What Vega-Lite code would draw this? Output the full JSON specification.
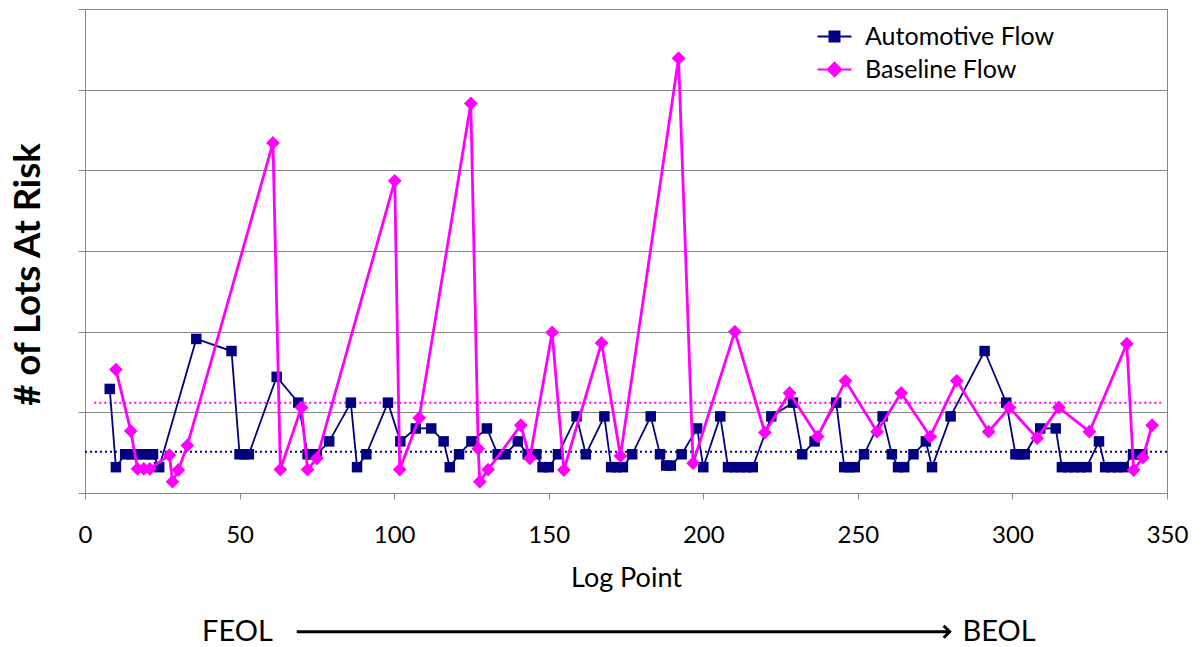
{
  "$schema": "https://vega.github.io/schema/vega-lite/v6.json",
  "width": 1082,
  "height": 484,
  "autosize": {"type": "none"},
  "padding": {"left": 85, "top": 9, "right": 36, "bottom": 154},
  "background": "white",
  "config": {
    "font": "Lato",
    "view": {"stroke": "#868686", "strokeWidth": 1},
    "axis": {
      "domainColor": "#868686",
      "tickColor": "#868686",
      "gridColor": "#868686",
      "gridWidth": 1,
      "labelColor": "#000000",
      "titleColor": "#000000",
      "labelFont": "Lato",
      "titleFont": "Lato"
    },
    "legend": {
      "orient": "none",
      "legendX": 737,
      "legendY": 15,
      "labelFontSize": 25,
      "labelFont": "Lato",
      "labelColor": "#000000",
      "labelLimit": 400,
      "symbolSize": 400,
      "symbolOpacity": 1,
      "symbolStrokeWidth": 2,
      "labelOffset": 18,
      "rowPadding": 7,
      "padding": 0
    }
  },
  "datasets": {
    "auto": [
      {"series": "Automotive Flow", "x": 8, "y": 12.9},
      {"series": "Automotive Flow", "x": 10, "y": 3.2},
      {"series": "Automotive Flow", "x": 13, "y": 4.8},
      {"series": "Automotive Flow", "x": 15, "y": 4.8},
      {"series": "Automotive Flow", "x": 17, "y": 4.8},
      {"series": "Automotive Flow", "x": 19, "y": 4.8},
      {"series": "Automotive Flow", "x": 21, "y": 4.8},
      {"series": "Automotive Flow", "x": 22, "y": 4.8},
      {"series": "Automotive Flow", "x": 24, "y": 3.2},
      {"series": "Automotive Flow", "x": 36, "y": 19.1},
      {"series": "Automotive Flow", "x": 47.4, "y": 17.6},
      {"series": "Automotive Flow", "x": 50, "y": 4.8},
      {"series": "Automotive Flow", "x": 51.5, "y": 4.8},
      {"series": "Automotive Flow", "x": 53, "y": 4.8},
      {"series": "Automotive Flow", "x": 62, "y": 14.4},
      {"series": "Automotive Flow", "x": 69, "y": 11.2},
      {"series": "Automotive Flow", "x": 72, "y": 4.8},
      {"series": "Automotive Flow", "x": 73.5, "y": 4.8},
      {"series": "Automotive Flow", "x": 75, "y": 4.8},
      {"series": "Automotive Flow", "x": 79, "y": 6.4},
      {"series": "Automotive Flow", "x": 86, "y": 11.2},
      {"series": "Automotive Flow", "x": 88, "y": 3.2},
      {"series": "Automotive Flow", "x": 91, "y": 4.8},
      {"series": "Automotive Flow", "x": 98, "y": 11.2},
      {"series": "Automotive Flow", "x": 102, "y": 6.4},
      {"series": "Automotive Flow", "x": 107, "y": 8},
      {"series": "Automotive Flow", "x": 112, "y": 8},
      {"series": "Automotive Flow", "x": 116, "y": 6.4},
      {"series": "Automotive Flow", "x": 118, "y": 3.2},
      {"series": "Automotive Flow", "x": 121, "y": 4.8},
      {"series": "Automotive Flow", "x": 125, "y": 6.4},
      {"series": "Automotive Flow", "x": 130, "y": 8},
      {"series": "Automotive Flow", "x": 133.5, "y": 4.8},
      {"series": "Automotive Flow", "x": 136, "y": 4.8},
      {"series": "Automotive Flow", "x": 140, "y": 6.4},
      {"series": "Automotive Flow", "x": 143.2, "y": 4.8},
      {"series": "Automotive Flow", "x": 146, "y": 4.8},
      {"series": "Automotive Flow", "x": 148, "y": 3.2},
      {"series": "Automotive Flow", "x": 150, "y": 3.2},
      {"series": "Automotive Flow", "x": 153, "y": 4.8},
      {"series": "Automotive Flow", "x": 159, "y": 9.5},
      {"series": "Automotive Flow", "x": 162, "y": 4.8},
      {"series": "Automotive Flow", "x": 168, "y": 9.5},
      {"series": "Automotive Flow", "x": 170.2, "y": 3.2},
      {"series": "Automotive Flow", "x": 172, "y": 3.2},
      {"series": "Automotive Flow", "x": 174, "y": 3.2},
      {"series": "Automotive Flow", "x": 177, "y": 4.8},
      {"series": "Automotive Flow", "x": 183, "y": 9.5},
      {"series": "Automotive Flow", "x": 186, "y": 4.8},
      {"series": "Automotive Flow", "x": 188, "y": 3.4},
      {"series": "Automotive Flow", "x": 189.5, "y": 3.4},
      {"series": "Automotive Flow", "x": 193, "y": 4.8},
      {"series": "Automotive Flow", "x": 198, "y": 8},
      {"series": "Automotive Flow", "x": 200, "y": 3.2},
      {"series": "Automotive Flow", "x": 205.5, "y": 9.5},
      {"series": "Automotive Flow", "x": 208, "y": 3.2},
      {"series": "Automotive Flow", "x": 210, "y": 3.2},
      {"series": "Automotive Flow", "x": 212, "y": 3.2},
      {"series": "Automotive Flow", "x": 214, "y": 3.2},
      {"series": "Automotive Flow", "x": 216, "y": 3.2},
      {"series": "Automotive Flow", "x": 222, "y": 9.5},
      {"series": "Automotive Flow", "x": 229, "y": 11.2},
      {"series": "Automotive Flow", "x": 232, "y": 4.8},
      {"series": "Automotive Flow", "x": 236, "y": 6.4},
      {"series": "Automotive Flow", "x": 243, "y": 11.2},
      {"series": "Automotive Flow", "x": 245.6, "y": 3.2},
      {"series": "Automotive Flow", "x": 247.3, "y": 3.2},
      {"series": "Automotive Flow", "x": 249, "y": 3.2},
      {"series": "Automotive Flow", "x": 252, "y": 4.8},
      {"series": "Automotive Flow", "x": 258, "y": 9.5},
      {"series": "Automotive Flow", "x": 261, "y": 4.8},
      {"series": "Automotive Flow", "x": 263, "y": 3.2},
      {"series": "Automotive Flow", "x": 265, "y": 3.2},
      {"series": "Automotive Flow", "x": 268, "y": 4.8},
      {"series": "Automotive Flow", "x": 272, "y": 6.4},
      {"series": "Automotive Flow", "x": 274, "y": 3.2},
      {"series": "Automotive Flow", "x": 280, "y": 9.5},
      {"series": "Automotive Flow", "x": 291, "y": 17.6},
      {"series": "Automotive Flow", "x": 298, "y": 11.2},
      {"series": "Automotive Flow", "x": 301, "y": 4.8},
      {"series": "Automotive Flow", "x": 302.5, "y": 4.8},
      {"series": "Automotive Flow", "x": 304, "y": 4.8},
      {"series": "Automotive Flow", "x": 309, "y": 8},
      {"series": "Automotive Flow", "x": 314, "y": 8},
      {"series": "Automotive Flow", "x": 316, "y": 3.2},
      {"series": "Automotive Flow", "x": 318, "y": 3.2},
      {"series": "Automotive Flow", "x": 320, "y": 3.2},
      {"series": "Automotive Flow", "x": 322, "y": 3.2},
      {"series": "Automotive Flow", "x": 324, "y": 3.2},
      {"series": "Automotive Flow", "x": 328, "y": 6.4},
      {"series": "Automotive Flow", "x": 330, "y": 3.2},
      {"series": "Automotive Flow", "x": 332, "y": 3.2},
      {"series": "Automotive Flow", "x": 334, "y": 3.2},
      {"series": "Automotive Flow", "x": 336, "y": 3.2},
      {"series": "Automotive Flow", "x": 339, "y": 4.8},
      {"series": "Automotive Flow", "x": 340.5, "y": 4.8},
      {"series": "Automotive Flow", "x": 342, "y": 4.8}
    ],
    "base": [
      {"series": "Baseline Flow", "x": 10, "y": 15.3},
      {"series": "Baseline Flow", "x": 14.8, "y": 7.7},
      {"series": "Baseline Flow", "x": 17, "y": 3.0},
      {"series": "Baseline Flow", "x": 19, "y": 3.0},
      {"series": "Baseline Flow", "x": 21, "y": 3.0},
      {"series": "Baseline Flow", "x": 27.3, "y": 4.7},
      {"series": "Baseline Flow", "x": 28.3, "y": 1.4},
      {"series": "Baseline Flow", "x": 30.2, "y": 2.85},
      {"series": "Baseline Flow", "x": 33.1, "y": 5.9},
      {"series": "Baseline Flow", "x": 60.8, "y": 43.4},
      {"series": "Baseline Flow", "x": 63.2, "y": 2.9},
      {"series": "Baseline Flow", "x": 70, "y": 10.6},
      {"series": "Baseline Flow", "x": 72, "y": 2.9},
      {"series": "Baseline Flow", "x": 75, "y": 4.3},
      {"series": "Baseline Flow", "x": 100.2, "y": 38.7},
      {"series": "Baseline Flow", "x": 101.8, "y": 2.9},
      {"series": "Baseline Flow", "x": 108.1, "y": 9.3},
      {"series": "Baseline Flow", "x": 124.8, "y": 48.3},
      {"series": "Baseline Flow", "x": 127.2, "y": 5.5},
      {"series": "Baseline Flow", "x": 127.7, "y": 1.4},
      {"series": "Baseline Flow", "x": 130.4, "y": 2.9},
      {"series": "Baseline Flow", "x": 141, "y": 8.4},
      {"series": "Baseline Flow", "x": 143.9, "y": 4.3},
      {"series": "Baseline Flow", "x": 151.1, "y": 19.9},
      {"series": "Baseline Flow", "x": 154.9, "y": 2.85},
      {"series": "Baseline Flow", "x": 167.1, "y": 18.6},
      {"series": "Baseline Flow", "x": 173.2, "y": 4.6},
      {"series": "Baseline Flow", "x": 192, "y": 53.9},
      {"series": "Baseline Flow", "x": 196.7, "y": 3.7},
      {"series": "Baseline Flow", "x": 210.2, "y": 20},
      {"series": "Baseline Flow", "x": 219.9, "y": 7.5},
      {"series": "Baseline Flow", "x": 227.9, "y": 12.4},
      {"series": "Baseline Flow", "x": 237, "y": 7},
      {"series": "Baseline Flow", "x": 246, "y": 13.9},
      {"series": "Baseline Flow", "x": 256.2, "y": 7.6},
      {"series": "Baseline Flow", "x": 264, "y": 12.4},
      {"series": "Baseline Flow", "x": 273.4, "y": 7},
      {"series": "Baseline Flow", "x": 282, "y": 13.9},
      {"series": "Baseline Flow", "x": 292.3, "y": 7.6},
      {"series": "Baseline Flow", "x": 299, "y": 10.6},
      {"series": "Baseline Flow", "x": 308, "y": 6.8},
      {"series": "Baseline Flow", "x": 315, "y": 10.6},
      {"series": "Baseline Flow", "x": 324.9, "y": 7.6},
      {"series": "Baseline Flow", "x": 337, "y": 18.5},
      {"series": "Baseline Flow", "x": 339.2, "y": 2.85},
      {"series": "Baseline Flow", "x": 342.2, "y": 4.4},
      {"series": "Baseline Flow", "x": 345.2, "y": 8.4}
    ],
    "refs": [
      {"series": "Automotive Flow", "x": 0, "x2": 350, "y": 5.1},
      {"series": "Baseline Flow", "x": 3, "x2": 349, "y": 11.2}
    ],
    "arrow": [{"x": 68.5, "x2": 279.7, "y": -17.2}],
    "arrowhead": [{"x": 279.7, "y": -17.2}],
    "labels": [
      {"label": "FEOL", "x": 49.3, "y": -17.2},
      {"label": "BEOL", "x": 295.7, "y": -17.2}
    ]
  },
  "encoding": {
    "x": {
      "field": "x",
      "type": "quantitative",
      "scale": {"domain": [0, 350], "nice": false, "zero": false},
      "axis": {
        "values": [0, 50, 100, 150, 200, 250, 300, 350],
        "grid": false,
        "tickSize": 6,
        "labelFontSize": 24,
        "labelPadding": 24,
        "labelFlush": false,
        "labelOverlap": false,
        "labelBound": false,
        "title": "Log Point",
        "titleFontSize": 27,
        "titleFontWeight": "normal",
        "titlePadding": 18
      }
    },
    "y": {
      "field": "y",
      "type": "quantitative",
      "scale": {"domain": [0, 60], "nice": false, "zero": false},
      "axis": {
        "values": [0, 10, 20, 30, 40, 50, 60],
        "grid": true,
        "labels": false,
        "tickSize": 7,
        "title": "# of Lots At Risk",
        "titleFontSize": 36.5,
        "titleFontWeight": "bold",
        "titlePadding": 30,
        "titleY": 265
      }
    }
  },
  "layer": [
    {
      "data": {"name": "refs"},
      "transform": [{"filter": "datum.series === 'Automotive Flow'"}],
      "mark": {"type": "rule", "color": "#000080", "strokeDash": [2, 3], "strokeWidth": 2},
      "encoding": {"x2": {"field": "x2"}}
    },
    {
      "data": {"name": "refs"},
      "transform": [{"filter": "datum.series === 'Baseline Flow'"}],
      "mark": {"type": "rule", "color": "#FF00FF", "strokeDash": [2, 3], "strokeWidth": 2},
      "encoding": {"x2": {"field": "x2"}}
    },
    {
      "data": {"name": "auto"},
      "mark": {"type": "line", "color": "#000080", "strokeWidth": 1.8},
      "encoding": {}
    },
    {
      "data": {"name": "auto"},
      "mark": {"type": "point", "shape": "square", "filled": true, "size": 110, "opacity": 1, "color": "#000080"},
      "encoding": {}
    },
    {
      "data": {"name": "base"},
      "mark": {"type": "line", "color": "#FF00FF", "strokeWidth": 2.8},
      "encoding": {}
    },
    {
      "data": {"name": "base"},
      "mark": {"type": "point", "shape": "diamond", "filled": true, "size": 190, "opacity": 1, "color": "#FF00FF"},
      "encoding": {}
    },
    {
      "data": {"name": "refs"},
      "mark": {"type": "point", "filled": true, "opacity": 0, "size": 400, "strokeWidth": 2},
      "encoding": {
        "color": {
          "field": "series",
          "type": "nominal",
          "title": null,
          "scale": {"domain": ["Automotive Flow", "Baseline Flow"], "range": ["#000080", "#FF00FF"]}
        },
        "stroke": {
          "field": "series",
          "type": "nominal",
          "title": null,
          "scale": {"domain": ["Automotive Flow", "Baseline Flow"], "range": ["#000080", "#FF00FF"]}
        },
        "shape": {
          "field": "series",
          "type": "nominal",
          "title": null,
          "scale": {
            "domain": ["Automotive Flow", "Baseline Flow"],
            "range": ["M-1.7,0H1.7M-0.5,-0.5H0.5V0.5H-0.5Z", "M-1.7,0H1.7M0,-0.68L0.68,0L0,0.68L-0.68,0Z"]
          }
        }
      }
    },
    {
      "data": {"name": "arrow"},
      "mark": {"type": "rule", "color": "#000000", "strokeWidth": 3},
      "encoding": {"x2": {"field": "x2"}}
    },
    {
      "data": {"name": "arrowhead"},
      "mark": {"type": "point", "shape": "M-1,-1L0,0L-1,1", "filled": false, "color": "#000000", "strokeWidth": 3, "size": 144, "opacity": 1},
      "encoding": {}
    },
    {
      "data": {"name": "labels"},
      "mark": {"type": "text", "fontSize": 29, "font": "Lato", "align": "center", "baseline": "middle", "color": "#000000"},
      "encoding": {"text": {"field": "label"}}
    }
  ]
}
